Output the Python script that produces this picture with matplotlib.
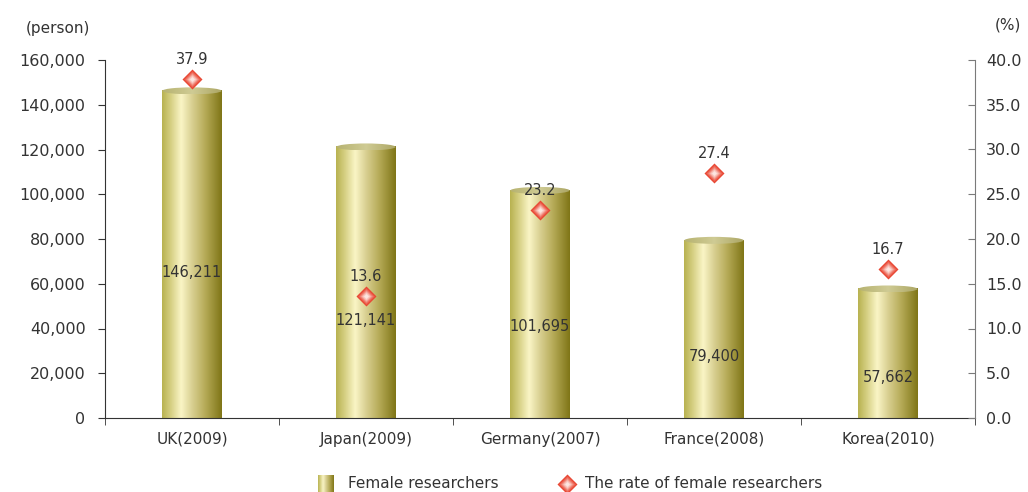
import numpy as np
import matplotlib
matplotlib.use('Agg')
import matplotlib.pyplot as plt
from matplotlib.patches import Ellipse
from matplotlib.colors import LinearSegmentedColormap, to_rgb
from matplotlib.ticker import FuncFormatter, FixedLocator

plt.rcParams['font.family'] = ['DejaVu Sans']

# data
countries = ['UK(2009)', 'Japan(2009)', 'Germany(2007)', 'France(2008)', 'Korea(2010)']
researchers = [146211, 121141, 101695, 79400, 57662]
rates = [37.9, 13.6, 23.2, 27.4, 16.7]

# where the count labels sit inside each column
count_label_y = [65000, 43500, 41000, 27300, 18300]

text_col = '#333333'
bar_w = 0.34

# cylinder shading, left to right
cyl = LinearSegmentedColormap.from_list('cyl', [
    (0.0, '#b8b250'), (0.15, '#d6d084'), (0.32, '#faf5c6'),
    (0.5, '#d9d092'), (0.72, '#b6ab58'), (1.0, '#7f7516')])
top_cmap = LinearSegmentedColormap.from_list('top', [
    (0.0, '#b6b270'), (0.5, '#cfcb94'), (1.0, '#aca664')])

# diamond layers, red rim fading to a pale centre
edge_rgb = np.array(to_rgb('#e8432f'))
centre_rgb = np.array(to_rgb('#fde6e0'))
diamond_layers = []
for i, ms in enumerate(np.linspace(10.5, 2.5, 8)):
    t = (i / 7) ** 1.3
    diamond_layers.append((ms, tuple(edge_rgb * (1 - t) + centre_rgb * t)))

fig = plt.figure(figsize=(10.28, 4.92), dpi=100)
ax = fig.add_axes([105 / 1028, 74 / 492, 870 / 1028, 358 / 492])
ax2 = ax.twinx()

x = np.arange(len(countries))
grad = np.linspace(0, 1, 256).reshape(1, -1)

# px -> data height for the top ellipse
top_h = 7 * 160000 / 358

bars = ax.bar(x, researchers, width=bar_w, color='none', edgecolor='none', zorder=2)
for b, val in zip(bars, researchers):
    x0 = b.get_x()
    ax.imshow(grad, cmap=cyl, extent=[x0, x0 + bar_w, 0, val],
              aspect='auto', zorder=2, interpolation='bicubic')
    ell = Ellipse((x0 + bar_w / 2, val), bar_w, top_h, facecolor='none',
                  edgecolor='none', zorder=3)
    ax.add_patch(ell)
    im = ax.imshow(grad, cmap=top_cmap,
                   extent=[x0, x0 + bar_w, val - top_h / 2, val + top_h / 2],
                   aspect='auto', zorder=3, interpolation='bicubic')
    im.set_clip_path(ell)

for xi, val, ly in zip(x, researchers, count_label_y):
    ax.text(xi, ly, f'{val:,}', ha='center', va='center', fontsize=10.5,
            color=text_col, zorder=5)

ax.set_xlim(-0.5, len(countries) - 0.5)
ax.set_ylim(0, 160000)
ax.set_yticks(np.arange(0, 160001, 20000))
ax.yaxis.set_major_formatter(FuncFormatter(lambda v, p: f'{int(v):,}'))
ax.tick_params(axis='y', direction='out', length=5, color=text_col,
               labelsize=11.5, labelcolor=text_col, pad=9)

ax.set_xticks(x)
ax.set_xticklabels(countries)
ax.xaxis.set_minor_locator(FixedLocator(np.arange(-0.5, len(countries), 1.0)))
ax.tick_params(axis='x', which='major', length=0, labelsize=11,
               labelcolor=text_col, pad=10)
ax.tick_params(axis='x', which='minor', length=5, color=text_col, direction='out')

for s in ['top', 'right']:
    ax.spines[s].set_visible(False)
ax.spines['left'].set_color(text_col)
ax.spines['bottom'].set_color(text_col)

# rate markers on the secondary axis
ax2.set_ylim(0, 40)
ax2.set_yticks(np.arange(0, 40.1, 5))
ax2.yaxis.set_major_formatter(FuncFormatter(lambda v, p: f'{v:.1f}'))
ax2.tick_params(axis='y', direction='in', length=5, color='#7a7a7a',
                labelsize=11.5, labelcolor=text_col, pad=8)
for s in ['top', 'left', 'bottom']:
    ax2.spines[s].set_visible(False)
ax2.spines['right'].set_color('#7a7a7a')

for ms, c in diamond_layers:
    ax2.plot(x, rates, linestyle='none', marker='D', markersize=ms,
             markerfacecolor=c, markeredgecolor='none', zorder=6)

for xi, r in zip(x, rates):
    ax2.annotate(f'{r:.1f}', (xi, r), xytext=(0, 14), textcoords='offset points',
                 ha='center', va='center', fontsize=10.5, color=text_col, zorder=7)

fig.text(26 / 1028, 1 - 28 / 492, '(person)', fontsize=11, color=text_col,
         ha='left', va='center')
fig.text(995 / 1028, 1 - 25 / 492, '(%)', fontsize=11, color=text_col,
         ha='left', va='center')

# legend along the bottom
sw = fig.add_axes([318 / 1028, 0, 16 / 1028, 17 / 492])
sw.imshow(grad, cmap=cyl, aspect='auto', interpolation='bicubic')
sw.axis('off')
fig.text(348 / 1028, 1 - 484 / 492, 'Female researchers', fontsize=11,
         color=text_col, ha='left', va='center')
for ms, c in diamond_layers:
    fig.add_artist(plt.Line2D([567 / 1028], [1 - 484 / 492], marker='D',
                              markersize=ms, markerfacecolor=c,
                              markeredgecolor='none', linestyle='none',
                              transform=fig.transFigure))
fig.text(585 / 1028, 1 - 484 / 492, 'The rate of female researchers',
         fontsize=11, color=text_col, ha='left', va='center')

fig.savefig('out.png', dpi=100)
